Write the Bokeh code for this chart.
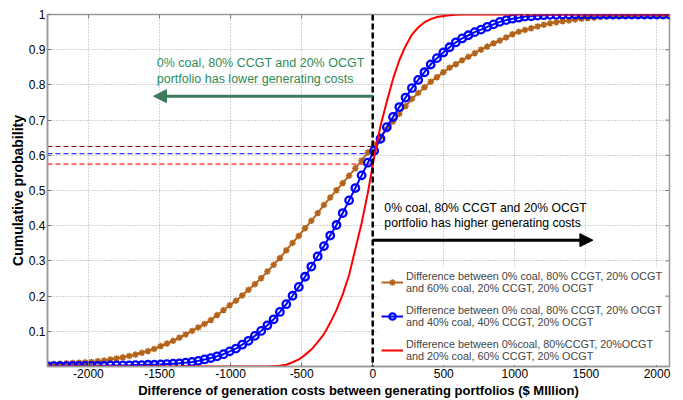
import math
from bokeh.plotting import figure
from bokeh.models import (Range1d, FixedTicker, Arrow, NormalHead, Label,
                          Legend, LegendItem, BoxAnnotation, Span)
from bokeh.embed import file_html
from bokeh.resources import INLINE

# ---------------- data ----------------
cost_diff = [-2288, -2244, -2200, -2155, -2111, -2067, -2023, -1979, -1934, -1890,
             -1846, -1802, -1758, -1713, -1669, -1625, -1581, -1537, -1492, -1448,
             -1404, -1360, -1316, -1271, -1227, -1183, -1139, -1095, -1050, -1006,
             -962, -918, -874, -829, -785, -741, -697, -653, -608, -564,
             -520, -476, -432, -387, -343, -299, -255, -211, -166, -122,
             -78, -34, 10, 55, 99, 143, 187, 231, 276, 320,
             364, 408, 452, 497, 541, 585, 629, 673, 718, 762,
             806, 850, 894, 939, 983, 1027, 1071, 1115, 1160, 1204,
             1248, 1292, 1336, 1381, 1425, 1469, 1513, 1557, 1602, 1646,
             1690, 1734, 1778, 1823, 1867, 1911, 1955, 1999, 2044, 2088]

cdf_vs_60coal = [0.006, 0.007, 0.008, 0.009, 0.010, 0.011, 0.012, 0.013, 0.015, 0.017,
                 0.020, 0.023, 0.026, 0.030, 0.034, 0.039, 0.044, 0.050, 0.058, 0.065,
                 0.073, 0.082, 0.091, 0.101, 0.111, 0.121, 0.132, 0.146, 0.160, 0.174,
                 0.187, 0.202, 0.218, 0.234, 0.251, 0.270, 0.289, 0.308, 0.330, 0.351,
                 0.371, 0.393, 0.414, 0.436, 0.459, 0.480, 0.501, 0.521, 0.542, 0.563,
                 0.585, 0.608, 0.630, 0.652, 0.674, 0.696, 0.718, 0.740, 0.760, 0.777,
                 0.793, 0.809, 0.822, 0.836, 0.849, 0.859, 0.870, 0.880, 0.890, 0.900,
                 0.909, 0.918, 0.926, 0.935, 0.944, 0.951, 0.956, 0.961, 0.966, 0.971,
                 0.975, 0.978, 0.981, 0.983, 0.986, 0.988, 0.990, 0.991, 0.993, 0.994,
                 0.995, 0.996, 0.997, 0.998, 0.998, 0.999, 0.999, 0.999, 1.000, 1.000]

cdf_vs_40coal = [0.001, 0.001, 0.001, 0.001, 0.002, 0.002, 0.002, 0.002, 0.002, 0.002,
                 0.003, 0.003, 0.003, 0.003, 0.004, 0.004, 0.005, 0.005, 0.006, 0.007,
                 0.008, 0.009, 0.011, 0.013, 0.016, 0.020, 0.024, 0.029, 0.035, 0.043,
                 0.051, 0.062, 0.073, 0.087, 0.101, 0.117, 0.134, 0.155, 0.177, 0.201,
                 0.226, 0.255, 0.284, 0.313, 0.342, 0.372, 0.402, 0.436, 0.472, 0.507,
                 0.543, 0.579, 0.613, 0.647, 0.680, 0.709, 0.737, 0.764, 0.791, 0.814,
                 0.836, 0.858, 0.876, 0.892, 0.907, 0.921, 0.932, 0.941, 0.950, 0.957,
                 0.965, 0.972, 0.979, 0.984, 0.988, 0.991, 0.994, 0.995, 0.997, 0.998,
                 0.999, 0.999, 1.000, 1.000, 1.000, 1.000, 1.000, 1.000, 1.000, 1.000,
                 1.000, 1.000, 1.000, 1.000, 1.000, 1.000, 1.000, 1.000, 1.000, 1.000]

cdf_vs_20coal = [0.000, 0.000, 0.000, 0.000, 0.000, 0.000, 0.000, 0.000, 0.000, 0.000,
                 0.000, 0.000, 0.000, 0.000, 0.000, 0.000, 0.000, 0.000, 0.000, 0.000,
                 0.000, 0.000, 0.000, 0.000, 0.000, 0.000, 0.000, 0.000, 0.000, 0.000,
                 0.000, 0.000, 0.000, 0.000, 0.000, 0.000, 0.001, 0.002, 0.005, 0.012,
                 0.020, 0.033, 0.048, 0.069, 0.092, 0.124, 0.160, 0.205, 0.260, 0.334,
                 0.407, 0.494, 0.595, 0.684, 0.752, 0.817, 0.870, 0.910, 0.943, 0.963,
                 0.978, 0.987, 0.993, 0.996, 0.998, 0.999, 1.000, 1.000, 1.000, 1.000,
                 1.000, 1.000, 1.000, 1.000, 1.000, 1.000, 1.000, 1.000, 1.000, 1.000,
                 1.000, 1.000, 1.000, 1.000, 1.000, 1.000, 1.000, 1.000, 1.000, 1.000,
                 1.000, 1.000, 1.000, 1.000, 1.000, 1.000, 1.000, 1.000, 1.000, 1.000]

# probability at zero cost difference (horizontal dashed guides)
prob_at_zero = [0.625, 0.605, 0.575]
guide_colors = ["#990000", "#3333ff", "#ff2020"]

series_labels = [
    "Difference between 0% coal, 80% CCGT, 20% OCGT\nand 60% coal, 20% CCGT, 20% OCGT",
    "Difference between 0% coal, 80% CCGT, 20% OCGT\nand 40% coal, 40% CCGT, 20% OCGT",
    "Difference between 0%coal, 80%CCGT, 20%OCGT\nand 20% coal, 60% CCGT, 20% OCGT",
]

x_ticks = [-2000, -1500, -1000, -500, 0, 500, 1000, 1500, 2000]
x_tick_labels = ["-2000", "-1500", "-1000", "-500", "0", "500", "1000", "1500", "2000"]
y_ticks = [0.1, 0.2, 0.3, 0.4, 0.5, 0.6, 0.7, 0.8, 0.9, 1.0]
y_tick_labels = ["0.1", "0.2", "0.3", "0.4", "0.5", "0.6", "0.7", "0.8", "0.9", "1"]

# annotation text / arrows
lower_text = ["0% coal, 80% CCGT and 20% OCGT", "portfolio has lower generating costs"]
higher_text = ["0% coal, 80% CCGT and 20% OCGT", "portfolio has higher generating costs"]
lower_arrow = dict(y=0.768, x_end=-1542)
higher_arrow = dict(y=0.359, x_end=1549)

FONT = "Liberation Sans"
BROWN = "#b4641a"
GREEN_TXT = "#2e8b57"
GREEN_ARROW = "#3d7a5c"
AXIS_GRAY = "#999999"

x_lo, x_hi = cost_diff[0], cost_diff[-1]

p = figure(width=683, height=400, output_backend="svg", toolbar_location=None,
           x_range=Range1d(x_lo, x_hi), y_range=Range1d(0, 1),
           min_border_left=47, min_border_right=14, min_border_top=14, min_border_bottom=32)
p.background_fill_color = "white"
p.border_fill_color = "white"
p.outline_line_color = AXIS_GRAY
p.outline_line_width = 1.5

# axes
xa = p.xaxis[0]
xa.ticker = FixedTicker(ticks=x_ticks)
xa.major_label_overrides = {t: l for t, l in zip(x_ticks, x_tick_labels)}
ya = p.yaxis[0]
ya.ticker = FixedTicker(ticks=y_ticks)
ya.major_label_overrides = {t: l for t, l in zip(y_ticks, y_tick_labels)}
for ax in (xa, ya):
    ax.major_tick_in = 4
    ax.major_tick_out = 0
    ax.minor_tick_line_color = None
    ax.axis_line_color = AXIS_GRAY
    ax.axis_line_width = 1.5
    ax.major_tick_line_color = "#777777"
    ax.major_label_text_font = FONT
    ax.major_label_text_font_size = "12px"
    ax.major_label_text_color = "black"
    ax.axis_label_text_font = FONT
    ax.axis_label_text_font_style = "bold"
    ax.axis_label_text_color = "black"
    ax.major_label_standoff = 2
xa.axis_label_standoff = 2
ya.axis_label_standoff = 0
xa.axis_label_text_font_size = "13px"
ya.axis_label_text_font_size = "14px"
xa.axis_label = "Difference of generation costs between generating portfolios ($ MIllion)"
ya.axis_label = "Cumulative probability"

p.xgrid.ticker = FixedTicker(ticks=x_ticks)
p.ygrid.ticker = FixedTicker(ticks=y_ticks)
for g in (p.xgrid[0], p.ygrid[0]):
    g.grid_line_color = "#a8a8a8"
    g.grid_line_dash = "1 2"
    g.grid_line_width = 1

# inward tick marks on the top and right edges of the box
p.ray(x=x_ticks, y=[1] * len(x_ticks), length=4, length_units="screen",
      angle=-math.pi / 2, line_color="#777777", line_width=1)
p.ray(x=[x_hi] * len(y_ticks), y=y_ticks, length=4, length_units="screen",
      angle=math.pi, line_color="#777777", line_width=1)

# text boxes (faint border)
p.add_layout(BoxAnnotation(left=-1542, right=-35, top=0.896, bottom=0.806,
                           fill_alpha=0, line_color="#f0f0cc", line_width=1))
p.add_layout(BoxAnnotation(left=53, right=1537, top=0.489, bottom=0.395,
                           fill_alpha=0, line_color="#f0f0cc", line_width=1))

# dashed guides at zero
for v, c in zip(prob_at_zero, guide_colors):
    p.line([x_lo, 0], [v, v], line_color=c, line_dash="5 3", line_width=1.2)

# curves
br_line = p.line(cost_diff, cdf_vs_60coal, line_color=BROWN, line_width=2)
br_pts = p.scatter(cost_diff, cdf_vs_60coal, marker="asterisk", size=6.5,
                   line_color=BROWN, line_width=1.6)
bl_line = p.line(cost_diff, cdf_vs_40coal, line_color="#0000ff", line_width=2)
bl_pts = p.scatter(cost_diff, cdf_vs_40coal, marker="circle", size=7.5,
                   line_color="#0000ff", line_width=2.3, fill_color=None)
rd_line = p.line(cost_diff, cdf_vs_20coal, line_color="#ff0000", line_width=2)

# vertical zero line
p.add_layout(Span(location=0, dimension="height", line_color="black",
                  line_dash="6 3", line_width=2.5))

# arrows
p.add_layout(Arrow(x_start=0, y_start=lower_arrow["y"], x_end=lower_arrow["x_end"],
                   y_end=lower_arrow["y"], line_color=GREEN_ARROW, line_width=3,
                   end=NormalHead(size=13, fill_color=GREEN_ARROW, line_color=GREEN_ARROW)))
p.add_layout(Arrow(x_start=0, y_start=higher_arrow["y"], x_end=higher_arrow["x_end"],
                   y_end=higher_arrow["y"], line_color="black", line_width=3,
                   end=NormalHead(size=13, fill_color="black", line_color="black")))

# annotation texts
for txt, yy in zip(lower_text, [0.862, 0.818]):
    p.add_layout(Label(x=-1519, y=yy, text=txt, text_font=FONT, text_font_size="12.5px",
                       text_color=GREEN_TXT, text_baseline="middle", text_align="left"))
for txt, yy in zip(higher_text, [0.451, 0.409]):
    p.add_layout(Label(x=82, y=yy, text=txt, text_font=FONT, text_font_size="12.2px",
                       text_color="black", text_baseline="middle", text_align="left"))

legend = Legend(items=[
    LegendItem(label=series_labels[0], renderers=[br_line, br_pts]),
    LegendItem(label=series_labels[1], renderers=[bl_line, bl_pts]),
    LegendItem(label=series_labels[2], renderers=[rd_line]),
], location=(331, 1))
legend.label_text_font = FONT
legend.label_text_font_size = "10.8px"
legend.label_text_line_height = 1.15
legend.glyph_width = 22
legend.glyph_height = 16
legend.label_standoff = 3
legend.spacing = 10
legend.padding = 3
legend.margin = 0
legend.border_line_alpha = 0
legend.background_fill_color = "white"
legend.background_fill_alpha = 1
p.add_layout(legend)

open("out.html", "w").write(file_html(p, INLINE))
